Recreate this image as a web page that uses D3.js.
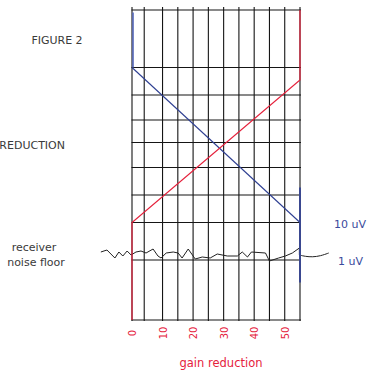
<!DOCTYPE html>
<html>
<head>
<meta charset="utf-8">
<script src="https://cdn.jsdelivr.net/npm/d3@7"></script>
<style>
  html, body { margin: 0; padding: 0; background: #fff; }
  svg { display: block; }
  text { font-family: "DejaVu Sans", sans-serif; }
</style>
</head>
<body>
<svg id="chart" width="369" height="374"></svg>
<script>
// ---- data ----
const xTicks = [0, 10, 20, 30, 40, 50];
const xGrid = [0, 4, 10, 15, 20, 25, 30, 35, 40, 45, 50, 55];
const yGrid = [0, 24, 39, 50, 61, 71, 80, 90, 101, 124];

// signal before gain reduction (blue) and gain reduction (red)
const blueStep = [[0, 123], [0, 101]];
const blueLine = [[0, 101], [55, 39]];
const blueRight = [[55, 53], [55, 15]];
const redLine = [[0, 0], [0, 39], [55, 96], [55, 124]];

// receiver noise floor
const noise = [
  [-10.2, 27.2], [-8.2, 28], [-5.6, 24.8], [-4.3, 27.2], [-3.0, 25.6], [-1.6, 27.6],
  [-0.3, 26], [1.3, 27.2], [2.95, 27.6], [4.6, 26.8], [6.9, 28.4], [8.5, 25.6],
  [9.5, 24.8], [11.2, 26.8], [13.5, 27.2], [15.1, 26.8], [16.4, 24.8], [18.4, 28.4],
  [20.7, 24.4], [23.0, 25.2], [25.6, 24.8], [27.9, 26.4], [31.2, 25.6], [34.5, 25.6],
  [36.1, 27.2], [37.8, 25.2], [39.1, 27.2], [43.7, 26.8], [45.0, 23.6], [48.0, 24.8],
  [50.2, 25.6], [52.5, 26.8], [54.8, 28.8], [54.8, 26]
];
const noiseTail = [[54.8, 26], [56.8, 25.4], [59.1, 25.2], [61.7, 25.6], [64.4, 26.8]];

const labels = {
  title: "FIGURE 2",
  left: "REDUCTION",
  noise1: "receiver",
  noise2: "noise floor",
  v10: "10 uV",
  v1: "1 uV",
  xTitle: "gain reduction"
};

// ---- layout ----
const svg = d3.select("#chart");
const x = d3.scaleLinear().domain([0, 55]).range([132, 300]);
const y = d3.scaleLinear().domain([0, 124]).range([320, 10]);
const RED = "#e5213c", BLUE = "#2e3f92", GREY_TEXT = "#3a3a3a";

// grid
const g = svg.append("g");
g.selectAll("line.v").data(xGrid).join("line")
  .attr("x1", d => x(d)).attr("x2", d => x(d))
  .attr("y1", y(124) - 3).attr("y2", y(0) + 1)
  .attr("stroke", "#151515").attr("stroke-width", 1.1);
g.selectAll("line.h").data(yGrid).join("line")
  .attr("x1", x(0) - 0.5).attr("x2", x(55) + 1)
  .attr("y1", d => y(d)).attr("y2", d => y(d))
  .attr("stroke", "#151515").attr("stroke-width", 1.1);

const line = d3.line().x(d => x(d[0])).y(d => y(d[1]));

// noise floor
svg.append("path").datum(noise).attr("d", line)
  .attr("fill", "none").attr("stroke", "#222").attr("stroke-width", 1);
svg.append("path").datum(noiseTail).attr("d", line.curve(d3.curveBasis))
  .attr("fill", "none").attr("stroke", "#222").attr("stroke-width", 1);
line.curve(d3.curveLinear);

// blue
svg.append("path").datum(blueStep).attr("d", line)
  .attr("transform", "translate(1,0)")
  .attr("fill", "none").attr("stroke", "#5466b8").attr("stroke-width", 1.6);
svg.append("path").datum(blueLine).attr("d", line)
  .attr("fill", "none").attr("stroke", BLUE).attr("stroke-width", 1.1);
svg.append("path").datum(blueRight).attr("d", line)
  .attr("fill", "none").attr("stroke", "#3a4890").attr("stroke-width", 2);

// red
svg.append("path").datum(redLine).attr("d", line)
  .attr("fill", "none").attr("stroke", RED).attr("stroke-width", 1.2);

// x axis tick labels
const axis = d3.axisBottom(x).tickValues(xTicks).tickSize(0).tickPadding(0);
const ax = svg.append("g").attr("transform", `translate(0,${y(0)})`).call(axis);
ax.select(".domain").remove();
ax.selectAll(".tick text")
  .attr("fill", RED)
  .attr("font-size", 10)
  .attr("font-family", "DejaVu Sans, sans-serif")
  .attr("transform", "translate(0,13) rotate(-90)")
  .attr("y", 0).attr("dy", "0.35em")
  .attr("text-anchor", "middle");

// texts
svg.append("text").attr("x", 57).attr("y", 44).attr("text-anchor", "middle")
  .attr("font-size", 11).attr("fill", GREY_TEXT).text(labels.title);
svg.append("text").attr("x", 65).attr("y", 149).attr("text-anchor", "end")
  .attr("font-size", 11).attr("fill", GREY_TEXT).text(labels.left);
svg.append("text").attr("x", 34).attr("y", 251).attr("text-anchor", "middle")
  .attr("font-size", 11).attr("fill", GREY_TEXT).text(labels.noise1);
svg.append("text").attr("x", 36).attr("y", 266).attr("text-anchor", "middle")
  .attr("font-size", 11).attr("fill", GREY_TEXT).text(labels.noise2);
svg.append("text").attr("x", 334).attr("y", 228)
  .attr("font-size", 11).attr("fill", "#3b4a9c").text(labels.v10);
svg.append("text").attr("x", 338).attr("y", 265)
  .attr("font-size", 11).attr("fill", "#3b4a9c").text(labels.v1);
svg.append("text").attr("x", 221).attr("y", 367).attr("text-anchor", "middle")
  .attr("font-size", 11.5).attr("fill", RED).text(labels.xTitle);
</script>
</body>
</html>
